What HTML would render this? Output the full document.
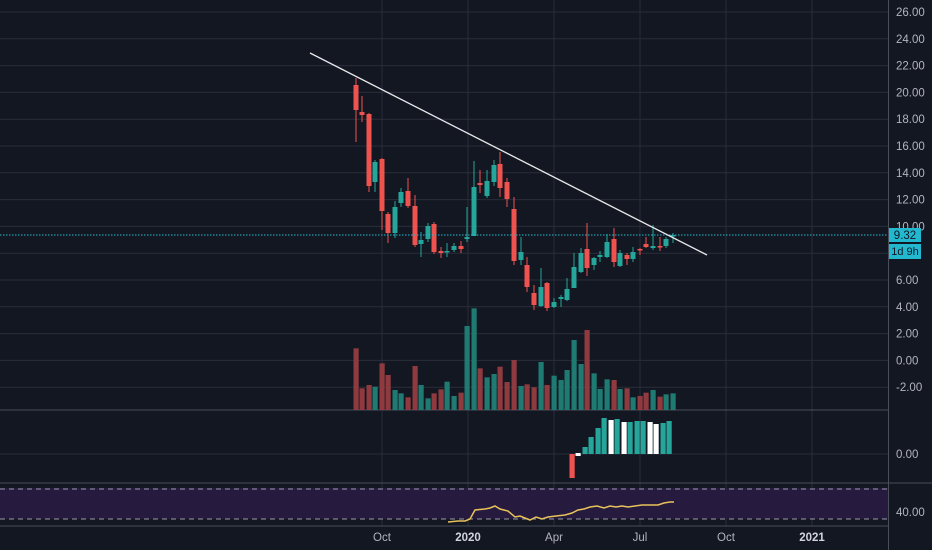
<!DOCTYPE html>
<html><head><meta charset="utf-8"><style>
html,body{margin:0;padding:0;background:#131722;}
svg{display:block;font-family:"Liberation Sans",sans-serif;}
</style></head><body>
<svg width="932" height="550" viewBox="0 0 932 550" xmlns="http://www.w3.org/2000/svg">
<rect width="932" height="550" fill="#131722"/>
<g id="grid" stroke="#2a2e39" stroke-width="1"></g>
<rect x="0" y="488" width="888" height="31" fill="#261b3f"/>
<line x1="0" y1="489" x2="888" y2="489" stroke="#9a98a8" stroke-dasharray="5,4"/>
<line x1="0" y1="519" x2="888" y2="519" stroke="#9a98a8" stroke-dasharray="5,4"/>
<line x1="0" y1="410" x2="888" y2="410" stroke="#4a4e59"/>
<line x1="0" y1="483" x2="932" y2="483" stroke="#4a4e59"/>
<line x1="0" y1="526" x2="888" y2="526" stroke="#4a4e59"/>
<line x1="888.5" y1="0" x2="888.5" y2="550" stroke="#4a4e59"/>
<g id="vol"></g>
<g id="macd"></g>
<g id="candles"></g>
<line x1="0" y1="235" x2="888" y2="235" stroke="#22b8d0" stroke-dasharray="1.5,1.5"/>
<line x1="310" y1="53" x2="707" y2="255" stroke="#e8e8ea" stroke-width="1.3"/>
<polyline fill="none" stroke="#e8c35a" stroke-width="1.5" points="448,522 458,521 465,521 470,519 475,510 485,509 490,508 495,506 500,509 508,511 515,517 520,516 530,520 536,517 542,519 548,517 556,516 565,515 572,513 578,510 584,509 590,507 597,506 604,508 610,506 616,507 622,506 628,507 635,506 642,505 650,505 658,505 664,503 670,502 674,502"/>
<g id="axis" fill="#b2b5be" font-size="11.5"></g>
<rect x="889" y="228" width="32" height="14" fill="#22b8d0"/>
<text x="905" y="239" fill="#131722" font-size="11.5" text-anchor="middle">9.32</text>
<rect x="889" y="244" width="32" height="15" fill="#22b8d0"/>
<text x="905" y="255" fill="#131722" font-size="11" text-anchor="middle">1d 9h</text>
<g fill="#b2b5be" font-size="11.5" text-anchor="middle">
<text x="382" y="541">Oct</text>
<text x="468" y="541" font-weight="bold" fill="#d1d4dc">2020</text>
<text x="554" y="541">Apr</text>
<text x="640" y="541">Jul</text>
<text x="726" y="541">Oct</text>
<text x="812" y="541" font-weight="bold" fill="#d1d4dc">2021</text>
</g>
</svg>
<script>
const NS="http://www.w3.org/2000/svg";
function el(p,t,a){const e=document.createElementNS(NS,t);for(const k in a)e.setAttribute(k,a[k]);document.getElementById(p).appendChild(e);return e;}
// grid
for(let v=26;v>=-2;v-=2){const y=12+(26-v)*13.4;if(y<410)el("grid","line",{x1:0,x2:888,y1:y,y2:y});
 const t=el("axis","text",{x:896,y:y+4});t.textContent=v.toFixed(2);}
el("grid","line",{x1:0,x2:888,y1:454,y2:454});
el("grid","line",{x1:0,x2:888,y1:512,y2:512});
{const t=el("axis","text",{x:896,y:458});t.textContent="0.00";}
{const t=el("axis","text",{x:896,y:516});t.textContent="40.00";}
[382,468,554,640,726,812].forEach(x=>el("grid","line",{x1:x,x2:x,y1:0,y2:526}));
// candles: [x,color, top,bottom, wickTop, wickBot]
const C=[[356,'r',85,110,78,142],[362,'r',112,115,96,122],[369,'r',114,186,113,192],[375,'g',162,182,160,192],[382,'r',159,211,158,230],[388,'r',214,233,212,243],[395,'g',207,233,201,238],[401,'g',192,203,188,207],[408,'r',191,206,178,208],[415,'r',206,245,195,247],[421,'g',240,244,232,257],[428,'g',226,239,223,242],[434,'r',224,252,222,254],[441,'r',251,253,247,258],[447,'g',251,252,243,257],[454,'g',246,250,243,252],[461,'r',246,249,241,253],[467,'g',237,239,207,242],[474,'g',187,236,161,236],[480,'r',183,185,170,193],[487,'g',181,196,170,198],[494,'g',165,182,160,186],[500,'r',164,188,152,197],[507,'r',182,199,178,207],[514,'r',209,261,197,265],[521,'g',252,260,237,265],[527,'r',265,287,257,292],[534,'r',293,305,285,310],[541,'g',287,306,268,307],[547,'r',283,308,282,311],[554,'g',302,307,298,308],[561,'g',297,299,295,307],[567,'g',289,300,278,301],[574,'g',267,288,253,288],[581,'g',253,272,248,273],[587,'r',249,268,223,276],[594,'g',258,265,257,270],[600,'g',255,257,251,262],[607,'g',242,257,234,258],[614,'r',239,262,228,267],[620,'g',253,266,250,267],[627,'r',255,259,253,265],[633,'g',252,259,247,262],[640,'r',249,250,248,255],[646,'r',244,247,237,248],[653,'g',246,248,225,250],[660,'r',246,247,237,251],[666,'g',239,246,237,248],[673,'g',235,236,233,243]];
C.forEach(c=>{const col=c[1]=='r'?'#ef5350':'#26a69a';
 el("candles","line",{x1:c[0],x2:c[0],y1:c[4],y2:c[5],stroke:col,"stroke-width":1});
 el("candles","rect",{x:c[0]-2.5,y:c[2],width:5,height:Math.max(1.5,c[3]-c[2]),fill:col});});
// volume
const V=[865,985,975,980,910,945,990,1000,1012,918,975,1015,1000,988,965,1008,998,798,745,925,952,942,920,966,900,978,973,982,906,975,947,960,930,840,912,810,940,987,958,960,987,985,1012,1008,998,990,1010,1003,1000];
V.forEach((v,i)=>{const c=C[i];const y=60+v/3;el("vol","rect",{x:c[0]-2.5,y:y,width:5.2,height:410-y,fill:c[1]=='r'?'#8e3a3f':'#1f7a72'});});
// macd
const M=[[572,'#ef5350',454,478],[578,'#ffffff',453,456],[585,'#26a69a',447,454],[591,'#26a69a',437,454],[598,'#26a69a',428,454],[604,'#26a69a',418,454],[611,'#ffffff',420,454],[617,'#26a69a',419,454],[624,'#ffffff',422,454],[630,'#26a69a',422,454],[637,'#26a69a',421,454],[643,'#26a69a',421,454],[650,'#ffffff',422,454],[656,'#ffffff',424,454],[663,'#26a69a',423,454],[669,'#26a69a',421,454]];
M.forEach(m=>el("macd","rect",{x:m[0]-2.5,y:m[2],width:5.2,height:m[3]-m[2],fill:m[1]}));
</script>
</body></html>
